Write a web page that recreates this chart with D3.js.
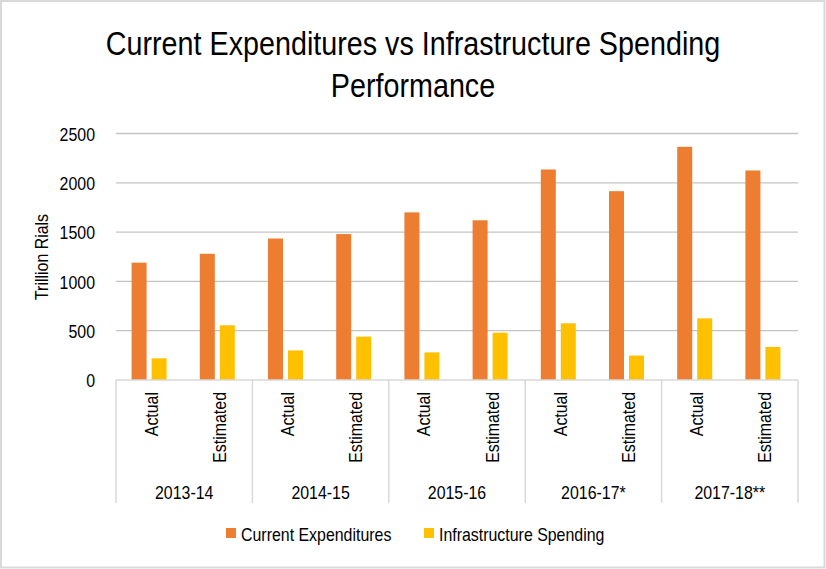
<!DOCTYPE html>
<html>
<head>
<meta charset="utf-8">
<script src="https://cdn.jsdelivr.net/npm/d3@7"></script>
<style>
  html, body { margin: 0; padding: 0; background: #fff; }
  svg { display: block; }
  text { font-family: "Liberation Sans", Arial, sans-serif; fill: #000; }
</style>
</head>
<body>
<svg id="chart" width="826" height="569"></svg>
<script>
const years = ["2013-14", "2014-15", "2015-16", "2016-17*", "2017-18**"];
const kinds = ["Actual", "Estimated"];
const seriesNames = ["Current Expenditures", "Infrastructure Spending"];
const currentExpenditures = [1190, 1280, 1435, 1480, 1700, 1620, 2135, 1915, 2365, 2125];
const infrastructureSpending = [220, 555, 300, 440, 280, 480, 575, 248, 625, 335];
const yTicks = [0, 500, 1000, 1500, 2000, 2500];
const colors = ["#ED7D31", "#FFC000"];

(function () {
const svg = d3.select("#chart");
const W = 826, H = 569;
const NARROW = 0.86;
const FS = 18.5;

// condense text horizontally (the reference uses a narrow typeface)
function condense(sel, f) {
  sel.each(function () {
    const len = this.getComputedTextLength();
    d3.select(this).attr("textLength", (len * (f || NARROW)).toFixed(2)).attr("lengthAdjust", "spacingAndGlyphs");
  });
}

svg.append("rect").attr("x", 1).attr("y", 1).attr("width", W - 2.5).attr("height", H - 2.5)
  .attr("fill", "#fff").attr("stroke", "#d9d9d9").attr("stroke-width", 2);

const titleLines = ["Current Expenditures vs Infrastructure Spending", "Performance"];
svg.append("g").selectAll("text").data(titleLines).join("text")
  .attr("x", 413).attr("y", (d, i) => 55 + i * 42)
  .attr("text-anchor", "middle").attr("font-size", 33).text(d => d)
  .call(condense, 0.87);

const pLeft = 116, pRight = 798, pTop = 133.5, pBottom = 380;

const keys = [];
years.forEach(yr => kinds.forEach(k => keys.push(yr + "|" + k)));
const rows = keys.map((k, i) => ({ key: k, year: k.split("|")[0], kind: k.split("|")[1],
  values: [currentExpenditures[i], infrastructureSpending[i]] }));

const xGroup = d3.scaleBand().domain(years).range([pLeft, pRight]).padding(0);
const xCat = d3.scaleBand().domain(keys).range([pLeft, pRight]).padding(0);
const bw = xCat.bandwidth();
const xSer = d3.scaleBand().domain(seriesNames).range([(bw - 35) / 2 - 1, (bw + 35) / 2 - 1]).paddingInner(0.25).paddingOuter(0);
const y = d3.scaleLinear().domain([0, 2500]).range([pBottom, pTop]);

svg.append("g").selectAll("line").data(yTicks.filter(t => t > 0)).join("line")
  .attr("x1", pLeft).attr("x2", pRight)
  .attr("y1", d => y(d)).attr("y2", d => y(d))
  .attr("stroke", "#c4c4c4").attr("stroke-width", 1.3);

const yAxis = d3.axisLeft(y).tickValues(yTicks).tickFormat(d3.format("d")).tickSize(0).tickPadding(0);
const yg = svg.append("g").attr("transform", `translate(95,0)`).call(yAxis);
yg.select(".domain").remove();
yg.attr("font-family", null).attr("font-size", null);
yg.selectAll("text").attr("font-size", FS).attr("fill", "#000").attr("dy", "0.36em").call(condense);

svg.append("text").attr("transform", `translate(47.5,257) rotate(-90)`)
  .attr("text-anchor", "middle").attr("font-size", FS).text("Trillion Rials").call(condense);

const gBars = svg.append("g");
rows.forEach(r => {
  gBars.append("g").attr("transform", `translate(${xCat(r.key)},0)`)
    .selectAll("rect").data(seriesNames.map((s, i) => ({ s, v: r.values[i], c: colors[i] }))).join("rect")
    .attr("x", d => xSer(d.s)).attr("width", xSer.bandwidth())
    .attr("y", d => y(d.v)).attr("height", d => y(0) - y(d.v))
    .attr("fill", d => d.c);
});

svg.append("line").attr("x1", pLeft).attr("x2", pRight).attr("y1", pBottom).attr("y2", pBottom)
  .attr("stroke", "#d9d9d9").attr("stroke-width", 1.5);
const dividers = years.map(yv => xGroup(yv)).concat([pRight]);
svg.append("g").selectAll("line").data(dividers).join("line")
  .attr("x1", d => d).attr("x2", d => d).attr("y1", pBottom).attr("y2", 503)
  .attr("stroke", "#d9d9d9").attr("stroke-width", 1.5);

svg.append("g").selectAll("text").data(rows).join("text")
  .attr("transform", d => `translate(${xCat(d.key) + bw / 2 + 7.5},392) rotate(-90)`)
  .attr("text-anchor", "end").attr("font-size", FS).text(d => d.kind).call(condense);

svg.append("g").selectAll("text").data(years).join("text")
  .attr("x", d => xGroup(d) + xGroup.bandwidth() / 2).attr("y", 499)
  .attr("text-anchor", "middle").attr("font-size", FS).text(d => d).call(condense);

const legendX = [226, 424];
const lg = svg.append("g");
seriesNames.forEach((s, i) => {
  lg.append("rect").attr("x", legendX[i]).attr("y", 528).attr("width", 10).attr("height", 10).attr("fill", colors[i]);
  lg.append("text").attr("x", legendX[i] + 15).attr("y", 541).attr("font-size", FS).text(s).call(condense);
});
})();
</script>
</body>
</html>
